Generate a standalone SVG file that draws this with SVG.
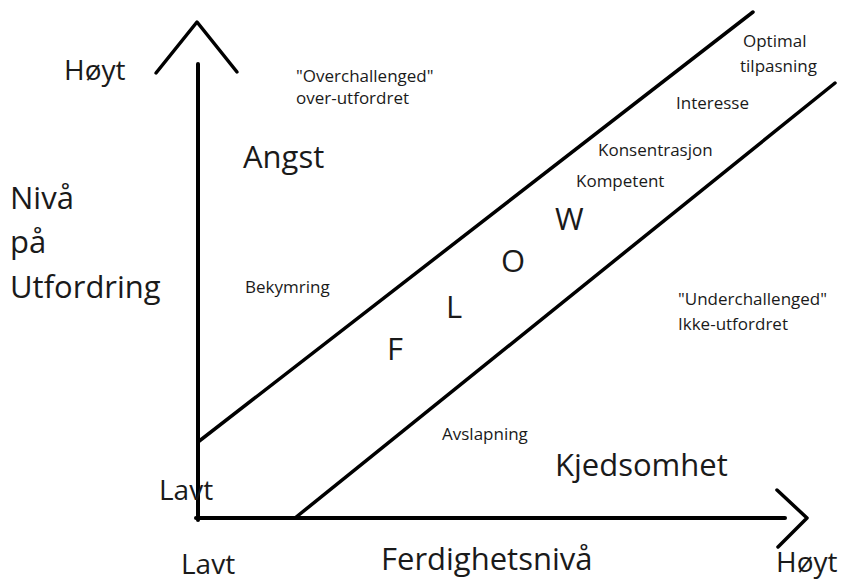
<svg xmlns="http://www.w3.org/2000/svg" width="841" height="582" viewBox="0 0 841 582">
<style>
.ln{stroke:#000;fill:none;stroke-linecap:round;stroke-linejoin:round}
.ax{stroke-width:4}
.dg{stroke-width:3.5}
text{font-family:"Open Sans","Liberation Sans",sans-serif;fill:#1a1a1a}
.s{font-size:17px}
.m{font-size:28px}
.b{font-size:31px}
</style>
<rect width="841" height="582" fill="#fff"/>
<g id="axes">
<line class="ln ax" x1="198" y1="64" x2="198" y2="520"/>
<line class="ln ax" x1="196" y1="518" x2="785" y2="518"/>
<polyline class="ln dg" points="156,73 197,22 237,72"/>
<polyline class="ln dg" points="777,490 807,518 778,547"/>
</g>
<g id="connectors">
<line class="ln dg" x1="198" y1="442" x2="753" y2="12"/>
<line class="ln dg" x1="295" y1="518" x2="835" y2="83"/>
</g>
<g id="axis-labels">
<text class="m" x="64" y="80">Høyt</text>
<text class="m" x="159" y="500">Lavt</text>
<text class="m" x="181" y="574">Lavt</text>
<text class="m" x="776" y="572">Høyt</text>
<text class="b" x="10" y="209">Nivå</text>
<text class="b" x="10" y="253">på</text>
<text class="b" x="10" y="298">Utfordring</text>
<text class="b" x="381" y="570">Ferdighetsnivå</text>
</g>
<g id="regions">
<text class="b" x="243" y="168">Angst</text>
<text class="s" x="296" y="82">"Overchallenged"</text>
<text class="s" x="296" y="104">over-utfordret</text>
<text class="s" x="245" y="293">Bekymring</text>
<text class="s" x="743" y="47">Optimal</text>
<text class="s" x="740" y="72">tilpasning</text>
<text class="s" x="676" y="109">Interesse</text>
<text class="s" x="598" y="156">Konsentrasjon</text>
<text class="s" x="576" y="187">Kompetent</text>
<text class="s" x="678" y="305">"Underchallenged"</text>
<text class="s" x="678" y="330">Ikke-utfordret</text>
<text class="s" x="442" y="440">Avslapning</text>
<text class="b" x="555" y="476">Kjedsomhet</text>
</g>
<g id="flow">
<text class="b" x="387" y="360">F</text>
<text class="b" x="446" y="318">L</text>
<text class="b" x="501" y="272">O</text>
<text class="b" x="555" y="230">W</text>
</g>
</svg>
